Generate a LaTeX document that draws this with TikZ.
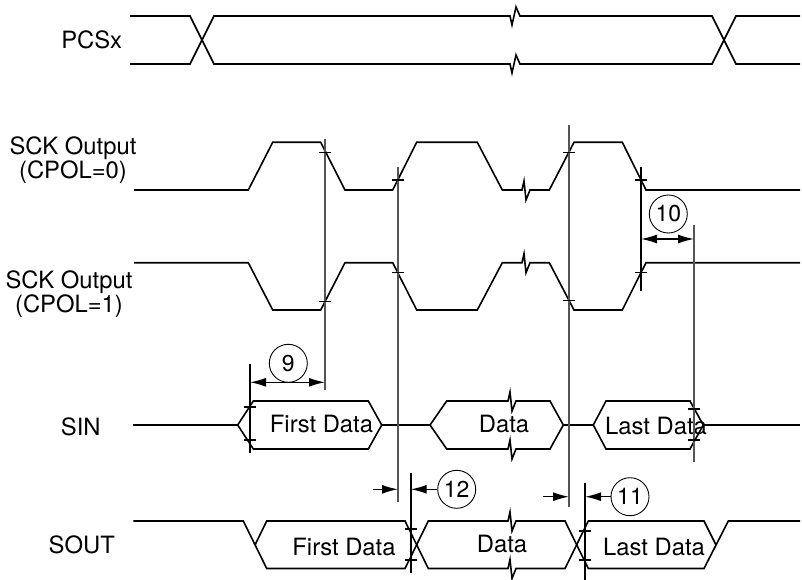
\documentclass[tikz,border=0pt]{standalone}
\usepackage{fontspec}
\setmainfont{TeX Gyre Heros}
\usetikzlibrary{arrows.meta}
\definecolor{guide}{RGB}{85,85,85}
\tikzset{sig/.style = {line width=1.6pt, line join=miter},
         guideline/.style = {line width=1.1pt, draw=guide},
         markline/.style = {line width=1.6pt},
         tickmark/.style = {line width=1.4pt},
         lbl/.style = {inner sep=0pt, font=\fontsize{23.8}{24}\selectfont, align=center},
         callout/.style = {draw, circle, line width=0.9pt, minimum size=38pt,
                           inner sep=0pt, font=\fontsize{23}{23}\selectfont},
         dimline/.style = {line width=1.4pt},
         >={Latex[length=16pt,width=9pt]}}
\newcommand{\zigup}{-- ++(2,-9) -- ++(2,19) -- ++(4,-10)}
\newcommand{\zigdn}{-- ++(2,9) -- ++(4,-18) -- ++(4,9)}
\newcommand{\tk}[2]{\draw[tickmark] (#1-6,#2) -- (#1+6,#2);}

\begin{document}
\begin{tikzpicture}[x=1pt, y=-1pt]
  \useasboundingbox (0,0) rectangle (802,580);

  % signal names
  \node[lbl] (pcs) at (91.7,40) {PCSx};
  \node[lbl] (sck0) at (73,160) {SCK Output\\(CPOL=0)};
  \node[lbl] (sck1) at (69,294) {SCK Output\\(CPOL=1)};
  \node[lbl] (sin) at (80.8,426.7) {SIN};
  \node[lbl] (sout) at (81.8,544.7) {SOUT};

  % PCSx
  \draw[sig] (130,16) -- (190,16) -- (214,64) -- (510,64) \zigdn -- (712,64) -- (736,16) -- (800,16);
  \draw[sig] (130,64) -- (190,64) -- (214,16) -- (510,16) \zigdn -- (712,16) -- (736,64) -- (800,64);

  % SCK
  \draw[sig] (134,190) -- (248.3,190) -- (272.7,142.3) -- (320.7,142.3) -- (345,190) -- (392.7,190)
    -- (416.7,142.3) -- (477.3,142.3) -- (502.3,190) -- (522,190) \zigup -- (549.3,190)
    -- (574,142.3) -- (622.3,142.3) -- (646,190) -- (800,190);
  \draw[sig] (134,262.7) -- (248.3,262.7) -- (272.7,310) -- (320.7,310) -- (345,262.7) -- (392.7,262.7)
    -- (416.7,310) -- (477.3,310) -- (502.3,262.7) -- (522,262.7) \zigup -- (549.3,262.7)
    -- (574,310) -- (622.3,310) -- (646,262.7) -- (800,262.7);

  % SIN
  \draw[sig] (133.3,425) -- (237.7,425);
  \draw[sig] (237.7,425) -- (253.3,401) -- (368.3,401) -- (381.7,425) -- (368.3,449) -- (253.3,449) -- cycle;
  \draw[sig] (381.7,425) -- (430,425);
  \draw[sig] (430,425) -- (446.7,401) -- (508,401) \zigup -- (550,401) -- (563.3,425);
  \draw[sig] (430,425) -- (446.7,449) -- (508,449) \zigup -- (550,449) -- (563.3,425);
  \draw[sig] (563.3,425) -- (593.3,425);
  \draw[sig] (593.3,425) -- (606,401) -- (690,401) -- (703.3,425) -- (690,449) -- (606,449) -- cycle;
  \draw[sig] (703.3,425) -- (800,425);
  \node[lbl] (in1) at (321.5,424) {First Data};
  \node[lbl] (in2) at (504,423.5) {Data};
  \node[lbl] (in3) at (656,426) {Last Data};

  % SOUT
  \draw[sig] (133.3,521) -- (243.3,521) -- (266.7,568.5) -- (405,568.5) -- (428.3,521) -- (508,521) \zigup
    -- (565,521) -- (588.3,568.5) -- (704,568.5) -- (728.3,521) -- (800,521);
  \draw[sig] (255,545) -- (266.7,521) -- (405,521) -- (428.3,568.5) -- (508,568.5) \zigup
    -- (565,568.5) -- (588.3,521) -- (704,521) -- (716,545);
  \node[lbl] (out1) at (344,547) {First Data};
  \node[lbl] (out2) at (502,543.5) {Data};
  \node[lbl] (out3) at (654,547) {Last Data};

  % reference lines
  \coordinate (g1t) at (325,139);   \coordinate (g1b) at (325,390);
  \coordinate (g2t) at (398,167);   \coordinate (g2b) at (398,502);
  \coordinate (g3t) at (569,125);   \coordinate (g3b) at (569,507);
  \coordinate (g5t) at (694,225);   \coordinate (g5b) at (694,462);
  \coordinate (m4t) at (641,167);   \coordinate (m4b) at (641,291);
  \coordinate (m9t) at (250,364);   \coordinate (m9b) at (250,453);
  \coordinate (m6t) at (410.7,473); \coordinate (m6b) at (410.7,573);
  \coordinate (m7t) at (585,483);   \coordinate (m7b) at (585,580);
  \draw[guideline] (g1t) -- (g1b);
  \draw[guideline] (g2t) -- (g2b);
  \draw[guideline] (g3t) -- (g3b);
  \draw[guideline] (g5t) -- (g5b);
  \draw[markline] (m4t) -- (m4b);
  \draw[markline] (m9t) -- (m9b);
  \draw[markline] (m6t) -- (m6b);
  \draw[markline] (m7t) -- (m7b);

  \tk{325}{152.7} \tk{325}{301.7}
  \tk{398}{180}   \tk{398}{272.7}
  \tk{569}{152.7} \tk{569}{300.5}
  \tk{641}{180}   \tk{641}{272.7}
  \tk{250}{407}   \tk{250}{440}
  \tk{694}{409}   \tk{694}{440}
  \tk{410.7}{529} \tk{410.7}{560}
  \tk{585}{531}   \tk{585}{560}

  % timing callouts
  \node[callout] (c9) at (288.3,363.3) {9};
  \node[callout] (c10) at (668.3,214) {10};
  \node[callout] (c12) at (456.7,489.3) {12};
  \node[callout] (c11) at (630,496.7) {11};

  \coordinate (d9a) at (250,382.3);   \coordinate (d9b) at (325,382.3);
  \coordinate (d10a) at (641,239);    \coordinate (d10b) at (694,239);
  \coordinate (d12a) at (373.3,489.3); \coordinate (d12b) at (398,489.3);
  \coordinate (d12c) at (410.7,489.3);
  \coordinate (d11a) at (543.3,496.7); \coordinate (d11b) at (569,496.7);
  \coordinate (d11c) at (585,496.7);
  \draw[dimline, <->] (d9a) -- (d9b);
  \draw[dimline, <->] (d10a) -- (d10b);
  \draw[dimline, ->] (d12a) -- (d12b);
  \draw[dimline, ->] (c12) -- (d12c);
  \draw[dimline, ->] (d11a) -- (d11b);
  \draw[dimline, ->] (c11) -- (d11c);
\end{tikzpicture}
\end{document}
